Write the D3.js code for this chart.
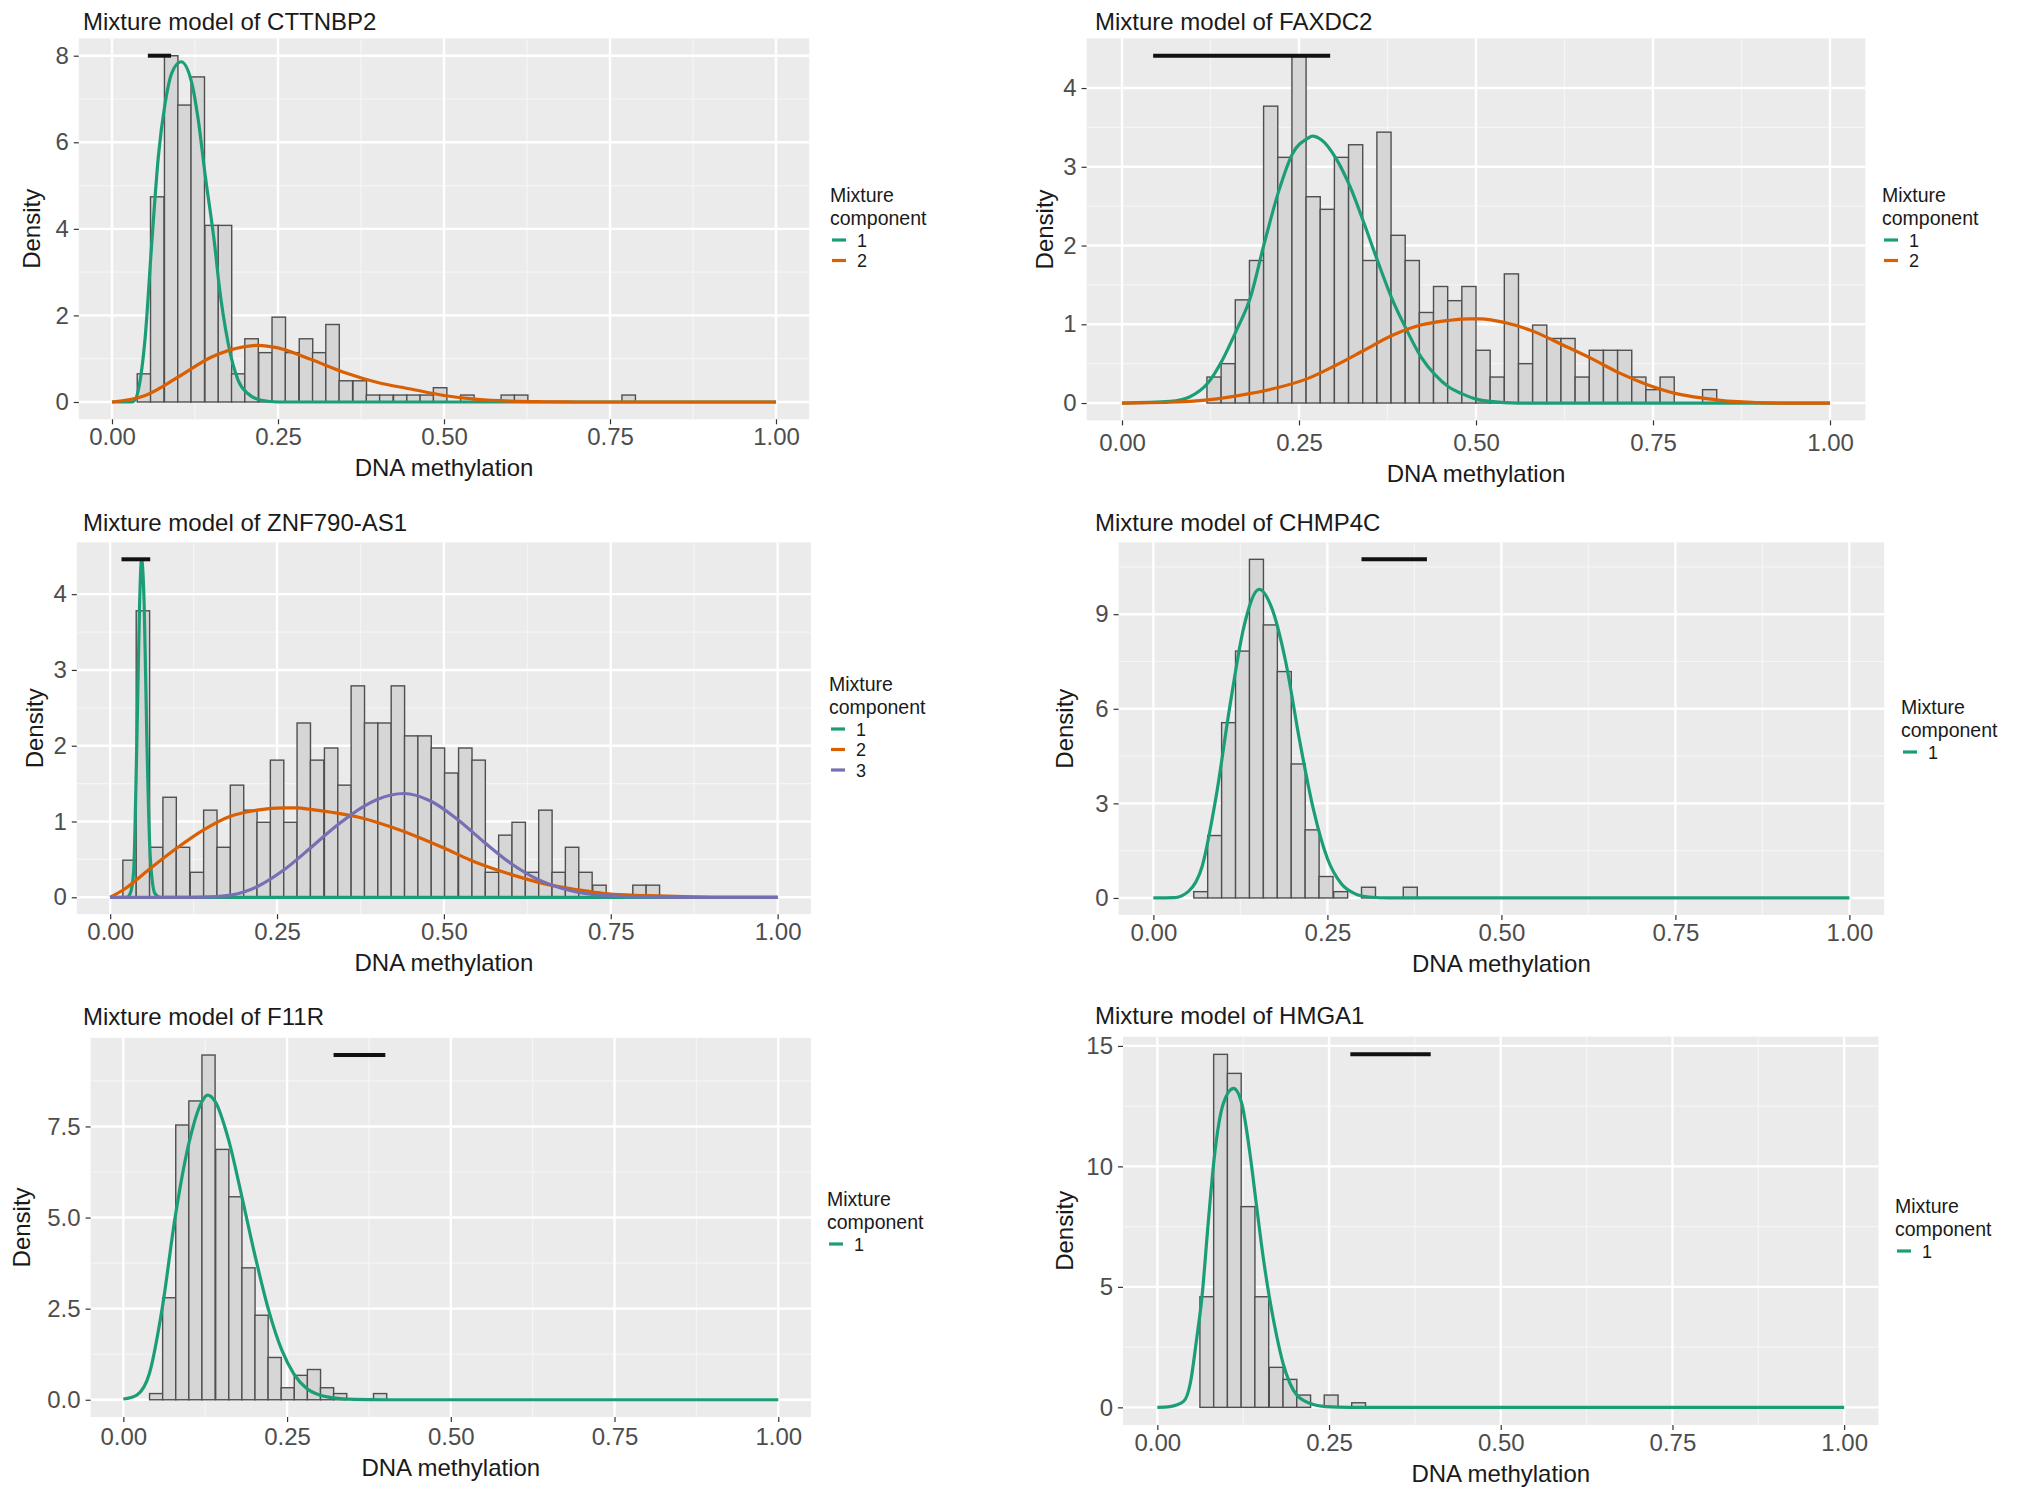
<!DOCTYPE html>
<html lang="en">
<head>
    <meta charset="UTF-8">
    <title>Mixture models of DNA methylation</title>
    <script src="https://d3js.org/d3.v7.min.js"></script>
    <style>
        html, body {
            margin: 0;
            padding: 0;
            background-color: #ffffff;
        }
        svg {
            display: block;
            font-family: 'Liberation Sans', Arial, Helvetica, sans-serif;
        }
    </style>
</head>
<body>
    <div id="chart"></div>
    <script>
        // PANEL TITLES
        const titles = [
            "Mixture model of CTTNBP2", "Mixture model of FAXDC2", "Mixture model of ZNF790-AS1",
            "Mixture model of CHMP4C", "Mixture model of F11R", "Mixture model of HMGA1"
        ];
        const xTicks = [0, 0.25, 0.5, 0.75, 1];
        const yTicks = [[0, 2, 4, 6, 8], [0, 1, 2, 3, 4], [0, 1, 2, 3, 4], [0, 3, 6, 9], [0, 2.5, 5, 7.5], [0, 5, 10, 15]];
        const yMinor = [[1, 3, 5, 7], [0.5, 1.5, 2.5, 3.5], [0.5, 1.5, 2.5, 3.5], [1.5, 4.5, 7.5, 10.5], [1.25, 3.75, 6.25, 8.75], [2.5, 7.5, 12.5]];
        const components = [[1, 2], [1, 2], [1, 2, 3], [1], [1], [1]];

        // HISTOGRAMS: bin left edges, bin widths and densities
        const binWidths = [0.0203, 0.02, 0.0201, 0.0201, 0.0201, 0.0201];
        const cttnbp2Edges = [0.038, 0.058, 0.079, 0.099, 0.119, 0.140, 0.160, 0.180, 0.200, 0.221, 0.241, 0.261, 0.282, 0.302, 0.322, 0.342, 0.363, 0.383, 0.403, 0.424, 0.444, 0.464, 0.484, 0.505, 0.525, 0.545, 0.566, 0.586, 0.606, 0.626, 0.647, 0.667, 0.687, 0.708, 0.728, 0.748, 0.768];
        const cttnbp2Dens = [0.65, 4.74, 8.0, 6.86, 7.51, 4.08, 4.08, 0.65, 1.46, 1.14, 1.96, 1.14, 1.46, 1.14, 1.79, 0.49, 0.49, 0.16, 0.16, 0.16, 0.16, 0.16, 0.33, 0, 0.16, 0, 0, 0.16, 0.16, 0, 0, 0, 0, 0, 0, 0, 0.16];
        const faxdc2Edges = [0.12, 0.14, 0.16, 0.18, 0.20, 0.22, 0.24, 0.26, 0.28, 0.30, 0.32, 0.34, 0.36, 0.38, 0.40, 0.42, 0.44, 0.46, 0.48, 0.50, 0.52, 0.54, 0.56, 0.58, 0.60, 0.62, 0.64, 0.66, 0.68, 0.70, 0.72, 0.74, 0.76, 0.78, 0.80, 0.82];
        const faxdc2Dens = [0.33, 0.50, 1.31, 1.81, 3.77, 3.12, 4.40, 2.62, 2.46, 3.12, 3.28, 1.81, 3.44, 2.13, 1.81, 1.15, 1.48, 1.30, 1.48, 0.67, 0.33, 1.64, 0.50, 0.99, 0.82, 0.82, 0.33, 0.67, 0.67, 0.67, 0.33, 0.17, 0.33, 0, 0, 0.17];
        const znf790Edges = [0.019, 0.039, 0.059, 0.079, 0.099, 0.120, 0.140, 0.160, 0.180, 0.200, 0.220, 0.240, 0.260, 0.280, 0.300, 0.321, 0.341, 0.361, 0.381, 0.401, 0.421, 0.441, 0.461, 0.481, 0.501, 0.522, 0.542, 0.562, 0.582, 0.602, 0.622, 0.642, 0.662, 0.682, 0.702, 0.723, 0.743, 0.763, 0.783, 0.803];
        const znf790Dens = [0.49, 3.78, 0.66, 1.32, 0.66, 0.33, 1.15, 0.66, 1.48, 1.15, 0.99, 1.81, 0.99, 2.30, 1.81, 1.97, 1.48, 2.79, 2.30, 2.30, 2.79, 2.13, 2.13, 1.97, 1.64, 1.97, 1.81, 0.33, 0.82, 0.99, 0.33, 1.15, 0.33, 0.66, 0.33, 0.16, 0, 0, 0.16, 0.16];
        const chmp4cEdges = [0.058, 0.078, 0.098, 0.118, 0.138, 0.158, 0.178, 0.198, 0.218, 0.238, 0.259, 0.279, 0.299, 0.319, 0.339, 0.359];
        const chmp4cDens = [0.20, 1.98, 5.56, 7.83, 10.74, 8.66, 7.18, 4.25, 2.16, 0.68, 0.20, 0, 0.34, 0, 0, 0.34];
        const f11rEdges = [0.040, 0.060, 0.080, 0.100, 0.120, 0.141, 0.161, 0.181, 0.201, 0.221, 0.241, 0.261, 0.281, 0.301, 0.321, 0.342, 0.362, 0.382];
        const f11rDens = [0.17, 2.80, 7.54, 8.20, 9.46, 6.87, 5.57, 3.62, 2.32, 1.16, 0.33, 0.67, 0.83, 0.33, 0.17, 0, 0, 0.17];
        const hmga1Edges = [0.062, 0.082, 0.102, 0.122, 0.142, 0.163, 0.183, 0.203, 0.223, 0.243, 0.263, 0.283];
        const hmga1Dens = [4.59, 14.65, 13.86, 8.33, 4.59, 1.66, 1.16, 0.51, 0, 0.51, 0, 0.19];

        // FITTED COMPONENT CURVES
        const cttnbp2C1x = [0, 0.03, 0.035, 0.04, 0.05, 0.06, 0.07, 0.08, 0.09, 0.104, 0.119, 0.130, 0.140, 0.155, 0.161, 0.175, 0.190, 0.205, 0.225, 0.25, 0.3, 1];
        const cttnbp2C1y = [0, 0, 0.05, 0.3, 1.5, 3.7, 5.7, 6.9, 7.6, 7.86, 7.44, 6.51, 5.28, 3.58, 2.74, 1.35, 0.50, 0.19, 0.04, 0, 0, 0];
        const cttnbp2C2x = [0, 0.05, 0.10, 0.15, 0.20, 0.22, 0.25, 0.30, 0.35, 0.40, 0.45, 0.50, 0.55, 0.60, 0.65, 0.70, 1];
        const cttnbp2C2y = [0, 0.15, 0.58, 1.04, 1.28, 1.31, 1.25, 0.98, 0.68, 0.45, 0.30, 0.15, 0.06, 0.02, 0.005, 0, 0];
        const faxdc2C1x = [0, 0.068, 0.096, 0.121, 0.142, 0.161, 0.181, 0.201, 0.222, 0.241, 0.262, 0.269, 0.282, 0.302, 0.322, 0.342, 0.362, 0.382, 0.402, 0.422, 0.442, 0.462, 0.48, 0.50, 0.52, 0.56, 1];
        const faxdc2C1y = [0, 0.02, 0.08, 0.25, 0.55, 0.91, 1.33, 2.03, 2.71, 3.17, 3.36, 3.39, 3.34, 3.11, 2.75, 2.28, 1.78, 1.31, 0.93, 0.59, 0.36, 0.2, 0.12, 0.05, 0.02, 0, 0];
        const faxdc2C2x = [0, 0.068, 0.121, 0.18, 0.222, 0.262, 0.302, 0.342, 0.382, 0.422, 0.462, 0.49, 0.506, 0.542, 0.581, 0.622, 0.662, 0.703, 0.743, 0.783, 0.823, 0.863, 0.93, 1];
        const faxdc2C2y = [0, 0.01, 0.04, 0.12, 0.2, 0.31, 0.48, 0.67, 0.86, 0.99, 1.05, 1.07, 1.07, 1.02, 0.91, 0.74, 0.57, 0.38, 0.23, 0.12, 0.06, 0.02, 0, 0];
        const znf790C1x = [0, 0.025, 0.030, 0.035, 0.040, 0.044, 0.047, 0.051, 0.055, 0.060, 0.067, 0.075, 1];
        const znf790C1y = [0, 0, 0.05, 0.32, 2.07, 3.84, 4.46, 3.84, 2.07, 0.54, 0.05, 0, 0];
        const znf790C2x = [0, 0.02, 0.06, 0.10, 0.14, 0.18, 0.22, 0.26, 0.28, 0.30, 0.34, 0.38, 0.42, 0.46, 0.50, 0.54, 0.58, 0.62, 0.66, 0.70, 0.74, 0.78, 0.82, 0.86, 0.92, 1];
        const znf790C2y = [0, 0.1, 0.38, 0.65, 0.89, 1.07, 1.15, 1.18, 1.18, 1.16, 1.11, 1.04, 0.93, 0.80, 0.65, 0.49, 0.36, 0.25, 0.16, 0.10, 0.05, 0.03, 0.02, 0.01, 0, 0];
        const znf790C3x = [0, 0.12, 0.16, 0.20, 0.22, 0.26, 0.30, 0.34, 0.38, 0.40, 0.44, 0.48, 0.52, 0.56, 0.60, 0.64, 0.68, 0.72, 0.76, 0.80, 0.86, 1];
        const znf790C3y = [0, 0, 0.01, 0.07, 0.14, 0.36, 0.65, 0.95, 1.2, 1.29, 1.37, 1.27, 1.03, 0.73, 0.45, 0.24, 0.11, 0.04, 0.015, 0.005, 0, 0];
        const chmp4cC1x = [0, 0.03, 0.05, 0.07, 0.09, 0.11, 0.13, 0.152, 0.17, 0.19, 0.21, 0.23, 0.25, 0.27, 0.29, 0.31, 0.34, 1];
        const chmp4cC1y = [0, 0.01, 0.2, 1.0, 3.2, 6.1, 8.6, 9.79, 9.2, 7.5, 5.0, 2.8, 1.25, 0.45, 0.13, 0.03, 0, 0];
        const f11rC1x = [0, 0.0205, 0.0398, 0.0597, 0.079, 0.0996, 0.1199, 0.1286, 0.1403, 0.1607, 0.181, 0.2014, 0.2218, 0.242, 0.26, 0.28, 0.30, 0.321, 0.352, 0.4, 1];
        const f11rC1y = [0.02, 0.13, 0.72, 2.55, 5.0, 7.0, 8.18, 8.36, 8.18, 7.13, 5.57, 3.93, 2.46, 1.36, 0.72, 0.31, 0.13, 0.05, 0.01, 0, 0];
        const hmga1C1x = [0, 0.018, 0.038, 0.048, 0.057, 0.065, 0.074, 0.083, 0.096, 0.111, 0.123, 0.135, 0.144, 0.154, 0.163, 0.174, 0.183, 0.193, 0.203, 0.222, 0.246, 0.28, 1];
        const hmga1C1y = [0, 0.03, 0.24, 1.0, 2.79, 4.59, 7.63, 10.4, 12.6, 13.24, 12.6, 10.5, 8.46, 6.25, 4.59, 2.93, 1.83, 1.0, 0.51, 0.17, 0.03, 0, 0];

        // BLACK RANGE SEGMENTS [from, to, height]
        const segments = [[0.054, 0.089, 8.0], [0.044, 0.294, 4.41], [0.017, 0.060, 4.46], [0.299, 0.393, 10.74], [0.321, 0.400, 9.46], [0.281, 0.398, 14.65]];

        const colours = ["#1b9e77", "#d95f02", "#7570b3"];
        const textColour = "#1a1a1a";
        const tickColour = "#4d4d4d";

        // LAYOUT: panel rect [x0, y0, x1, y1], title pos, y-title x, x-axis text shift, legend x / baseline
        const layout = [
            {rect: [78.8, 38.4, 809.2, 419.3], titleX: 83, titleY: 30.4, yTitleX: 32, axShift: 0, legX: 830, legY: 202},
            {rect: [1086.6, 38.4, 1865.4, 420.4], titleX: 1095, titleY: 30.4, yTitleX: 1045, axShift: 5, legX: 1882, legY: 202},
            {rect: [76.8, 542.4, 811.0, 914.2], titleX: 83, titleY: 531.4, yTitleX: 35, axShift: 0, legX: 829, legY: 691},
            {rect: [1118.6, 542.4, 1884.2, 914.9], titleX: 1095, titleY: 531.4, yTitleX: 1065, axShift: 0, legX: 1901, legY: 714},
            {rect: [90.6, 1037.8, 811.0, 1417.0], titleX: 83, titleY: 1024.8, yTitleX: 22, axShift: 2, legX: 827, legY: 1206},
            {rect: [1123, 1036.7, 1878.5, 1425], titleX: 1095, titleY: 1024, yTitleX: 1065, axShift: 0, legX: 1895, legY: 1213}
        ];

        const hist = [
            [cttnbp2Edges, cttnbp2Dens], [faxdc2Edges, faxdc2Dens], [znf790Edges, znf790Dens],
            [chmp4cEdges, chmp4cDens], [f11rEdges, f11rDens], [hmga1Edges, hmga1Dens]
        ];
        const curves = [
            [[cttnbp2C1x, cttnbp2C1y], [cttnbp2C2x, cttnbp2C2y]],
            [[faxdc2C1x, faxdc2C1y], [faxdc2C2x, faxdc2C2y]],
            [[znf790C1x, znf790C1y], [znf790C2x, znf790C2y], [znf790C3x, znf790C3y]],
            [[chmp4cC1x, chmp4cC1y]],
            [[f11rC1x, f11rC1y]],
            [[hmga1C1x, hmga1C1y]]
        ];

        const svg = d3.select("#chart")
            .append("svg")
            .attr("width", 2032)
            .attr("height", 1500);

        svg.append("rect").attr("width", 2032).attr("height", 1500).style("fill", "#ffffff");

        layout.forEach((lay, p) => {
            const [x0, y0, x1, y1] = lay.rect;
            const ymax = segments[p][2];
            const g = svg.append("g");

            const x = d3.scaleLinear().domain([-0.05, 1.05]).range([x0, x1]);
            const y = d3.scaleLinear().domain([-0.05 * ymax, 1.05 * ymax]).range([y1, y0]);

            // PANEL BACKGROUND & GRID
            g.append("rect")
                .attr("x", x0).attr("y", y0)
                .attr("width", x1 - x0).attr("height", y1 - y0)
                .style("fill", "#ebebeb");

            const xMinor = [0.125, 0.375, 0.625, 0.875];
            g.selectAll(".xminor").data(xMinor).enter().append("line")
                .attr("x1", d => x(d)).attr("x2", d => x(d))
                .attr("y1", y0).attr("y2", y1)
                .style("stroke", "#f5f5f5").style("stroke-width", 1.2);
            g.selectAll(".yminor").data(yMinor[p]).enter().append("line")
                .attr("x1", x0).attr("x2", x1)
                .attr("y1", d => y(d)).attr("y2", d => y(d))
                .style("stroke", "#f5f5f5").style("stroke-width", 1.2);
            g.selectAll(".xmajor").data(xTicks).enter().append("line")
                .attr("x1", d => x(d)).attr("x2", d => x(d))
                .attr("y1", y0).attr("y2", y1)
                .style("stroke", "#ffffff").style("stroke-width", 2.4);
            g.selectAll(".ymajor").data(yTicks[p]).enter().append("line")
                .attr("x1", x0).attr("x2", x1)
                .attr("y1", d => y(d)).attr("y2", d => y(d))
                .style("stroke", "#ffffff").style("stroke-width", 2.4);

            // HISTOGRAM BARS
            const [edges, dens] = hist[p];
            const bw = binWidths[p];
            g.selectAll(".bar").data(edges).enter().append("rect")
                .attr("x", d => x(d))
                .attr("width", d => x(d + bw) - x(d))
                .attr("y", (d, i) => y(dens[i]))
                .attr("height", (d, i) => y(0) - y(dens[i]))
                .style("fill", "#d6d6d6")
                .style("stroke", "#4f4f4f")
                .style("stroke-width", 1.4);

            // COMPONENT CURVES
            const line = d3.line()
                .x(d => x(d[0]))
                .y(d => y(d[1]))
                .curve(d3.curveMonotoneX);
            curves[p].forEach((c, k) => {
                g.append("path")
                    .datum(c[0].map((v, i) => [v, c[1][i]]))
                    .attr("d", line)
                    .style("fill", "none")
                    .style("stroke", colours[k])
                    .style("stroke-width", 3.2);
            });

            // BLACK RANGE SEGMENT
            const seg = segments[p];
            g.append("line")
                .attr("x1", x(seg[0])).attr("x2", x(seg[1]))
                .attr("y1", y(seg[2])).attr("y2", y(seg[2]))
                .style("stroke", "#111111")
                .style("stroke-width", 4);

            // AXES
            const xAxis = d3.axisBottom(x).tickValues(xTicks).tickFormat(d3.format(".2f")).tickSize(5).tickPadding(4 + lay.axShift);
            const yFmt = p === 4 ? d3.format(".1f") : d3.format("d");
            const yAxis = d3.axisLeft(y).tickValues(yTicks[p]).tickFormat(yFmt).tickSize(5).tickPadding(5);

            const gx = g.append("g").attr("transform", `translate(0, ${y1})`).call(xAxis);
            const gy = g.append("g").attr("transform", `translate(${x0}, 0)`).call(yAxis);
            [gx, gy].forEach(a => {
                a.select(".domain").remove();
                a.selectAll(".tick line").style("stroke", "#333333").style("stroke-width", 1.2);
                a.selectAll(".tick text")
                    .style("font-size", "24px")
                    .style("font-family", "'Liberation Sans', Arial, sans-serif")
                    .style("fill", tickColour);
            });

            // TITLES
            g.append("text")
                .attr("x", lay.titleX).attr("y", lay.titleY)
                .text(titles[p])
                .style("font-size", "24px")
                .style("fill", textColour);
            g.append("text")
                .attr("x", (x0 + x1) / 2).attr("y", y1 + 57 + lay.axShift)
                .attr("text-anchor", "middle")
                .text("DNA methylation")
                .style("font-size", "24px")
                .style("fill", textColour);
            g.append("text")
                .attr("transform", `translate(${lay.yTitleX + 8}, ${(y0 + y1) / 2}) rotate(-90)`)
                .attr("text-anchor", "middle")
                .text("Density")
                .style("font-size", "24px")
                .style("fill", textColour);

            // LEGEND
            const leg = g.append("g");
            leg.append("text").attr("x", lay.legX).attr("y", lay.legY)
                .text("Mixture").style("font-size", "19.5px").style("fill", textColour);
            leg.append("text").attr("x", lay.legX).attr("y", lay.legY + 22.5)
                .text("component").style("font-size", "19.5px").style("fill", textColour);

            const keyY = k => lay.legY + 38 + k * 20.5;
            components[p].forEach((c, k) => {
                leg.append("line")
                    .attr("x1", lay.legX + 2).attr("x2", lay.legX + 16)
                    .attr("y1", keyY(k)).attr("y2", keyY(k))
                    .style("stroke", colours[k])
                    .style("stroke-width", 3.2);
                leg.append("text")
                    .attr("x", lay.legX + 27).attr("y", keyY(k) + 6.5)
                    .text(c)
                    .style("font-size", "18px")
                    .style("fill", textColour);
            });
        });
    </script>
</body>
</html>
